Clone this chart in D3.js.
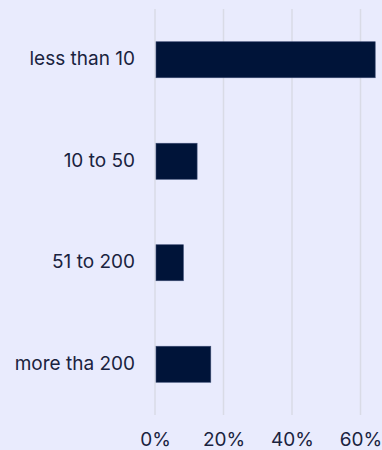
<!DOCTYPE html>
<html><head><meta charset="utf-8">
<script src="https://cdn.jsdelivr.net/npm/d3@7"></script>
<style>
html,body{margin:0;padding:0;background:#e9ebfd;}
svg{display:block;}
</style></head>
<body>
<svg id="chart" width="382" height="450"></svg>
<script>
const categories = ["less than 10", "10 to 50", "51 to 200", "more tha 200"];
const values = [64, 12, 8, 16];
const tickValues = [0, 20, 40, 60];

const svg = d3.select("#chart");
const W = 382, H = 450;
const margin = {left: 155, right: 4, top: 9, bottom: 35};

svg.append("rect").attr("width", W).attr("height", H).attr("fill", "#e9ebfd");

const x = d3.scaleLinear().domain([0, 60]).range([margin.left, 360.5]);
const y = d3.scaleBand().domain(categories).range([margin.top, H - margin.bottom])
  .paddingInner(0.645).paddingOuter(0.3225);

const font = "Inter, 'Noto Sans', sans-serif";

// gridlines
svg.append("g").selectAll("line").data(tickValues).join("line")
  .attr("x1", d => x(d)).attr("x2", d => x(d))
  .attr("y1", margin.top).attr("y2", H - margin.bottom)
  .attr("stroke", "#d9dbe6").attr("stroke-width", 1.5);

// bars
svg.append("g").selectAll("rect").data(values).join("rect")
  .attr("x", x(0) + 1)
  .attr("y", (d, i) => y(categories[i]))
  .attr("width", d => x(d) - x(0))
  .attr("height", y.bandwidth())
  .attr("fill", "#001439")
  .attr("stroke", "#3c4c74").attr("stroke-width", 0.6);

// y labels
svg.append("g").selectAll("text").data(categories).join("text")
  .attr("x", x(0) - 20)
  .attr("y", d => y(d) + y.bandwidth() / 2)
  .attr("dy", "0.3em")
  .attr("text-anchor", "end")
  .attr("font-family", font).attr("font-size", 19)
  .attr("fill", "#1a2340")
  .text(d => d);

// x tick labels
const xAxis = d3.axisBottom(x).tickValues(tickValues).tickFormat(d => d + "%").tickSize(0).tickPadding(0);
const gx = svg.append("g").attr("transform", `translate(0,${H - 17})`).call(xAxis);
gx.select(".domain").remove();
gx.selectAll("text").attr("font-family", font).attr("font-size", 19).attr("fill", "#1a2340").attr("dy", "0.7em");
</script>
</body></html>
